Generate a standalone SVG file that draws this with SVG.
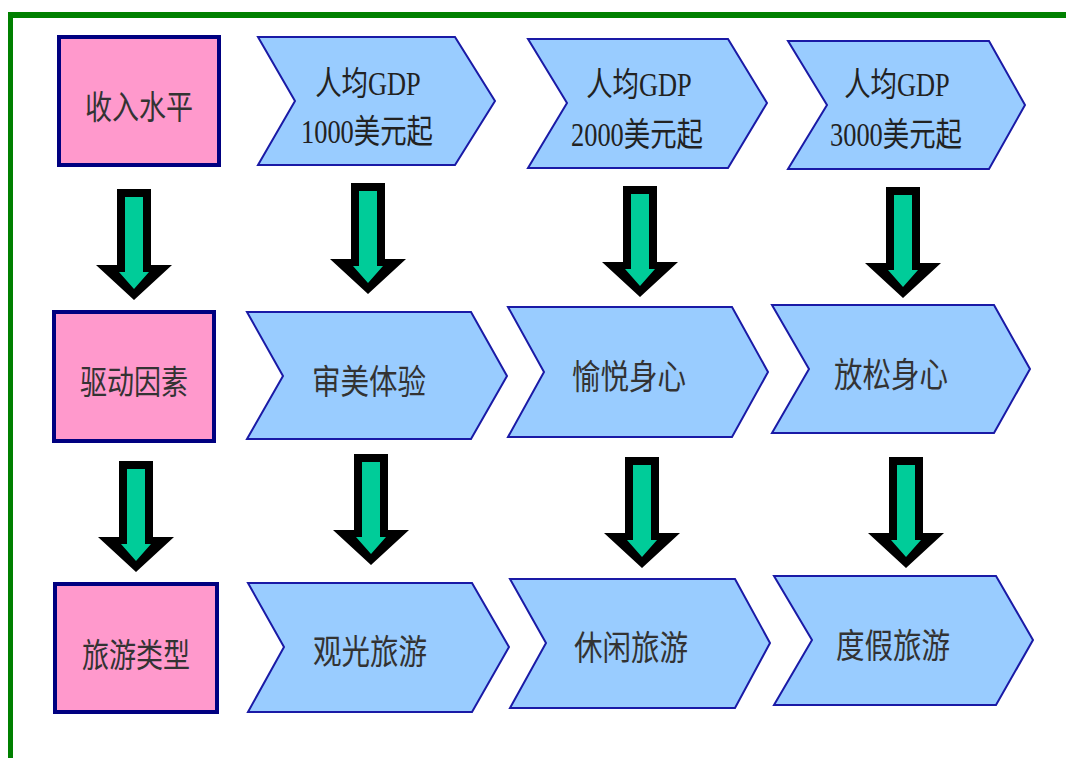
<svg xmlns="http://www.w3.org/2000/svg" xmlns:xlink="http://www.w3.org/1999/xlink" width="1066" height="758" viewBox="0 0 1066 758">
<style>
.bg{fill:#ffffff}
.frame{stroke:#008000;fill:none}
.box{fill:#FF99CC;stroke:#000080;stroke-width:4}
.chev{fill:#99CCFF;stroke:#1a1aa6;stroke-width:2;stroke-linejoin:miter}
.t{font-family:"Liberation Serif","Noto Sans CJK SC",serif;font-size:34px;fill:#333333;text-anchor:middle}
.tb{font-family:"Liberation Serif","Noto Sans CJK SC",serif;font-size:33px;fill:#333333;text-anchor:middle}
.t2{font-family:"Liberation Serif","Noto Sans CJK SC",serif;font-size:33px;fill:#222222;text-anchor:middle}
</style>
<defs>
<g id="arr">
<polygon points="-17,0 17,0 17,76 38,76 0,111 -38,76 -17,76" fill="#000000"/>
<polygon points="-9,8 9,8 9,83 15,83 0,100 -15,83 -9,83" fill="#00CC99"/>
</g>
</defs>
<rect class="bg" x="0" y="0" width="1066" height="758"/>
<g id="frame">
<line class="frame" x1="8" y1="15" x2="1066" y2="15" stroke-width="6"/>
<line class="frame" x1="10.5" y1="12" x2="10.5" y2="758" stroke-width="5"/>
</g>
<g id="connectors">
<use xlink:href="#arr" x="134" y="189"/>
<use xlink:href="#arr" x="368" y="183"/>
<use xlink:href="#arr" x="640" y="186"/>
<use xlink:href="#arr" x="903" y="187"/>
<use xlink:href="#arr" x="136" y="461"/>
<use xlink:href="#arr" x="371" y="454"/>
<use xlink:href="#arr" x="642" y="457"/>
<use xlink:href="#arr" x="906" y="457"/>
</g>
<g id="node-income">
<rect class="box" x="59" y="37" width="160" height="128"/>
<text class="tb" transform="translate(139,119) scale(0.82,1)">收入水平</text>
</g>
<g id="node-gdp1000">
<polygon class="chev" points="258,37 455,37 495,101 455,165 258,165 295,101"/>
<text class="t2" transform="translate(368,95) scale(0.8,1)">人均GDP</text>
<text class="t2" transform="translate(367,143) scale(0.8,1)">1000美元起</text>
</g>
<g id="node-gdp2000">
<polygon class="chev" points="528,39 728,39 767,103 728,168 528,168 567,103"/>
<text class="t2" transform="translate(639,96) scale(0.8,1)">人均GDP</text>
<text class="t2" transform="translate(637,146) scale(0.8,1)">2000美元起</text>
</g>
<g id="node-gdp3000">
<polygon class="chev" points="788,41 989,41 1025,105 989,169 788,169 827,105"/>
<text class="t2" transform="translate(897,96) scale(0.8,1)">人均GDP</text>
<text class="t2" transform="translate(896,146) scale(0.8,1)">3000美元起</text>
</g>
<g id="node-driver">
<rect class="box" x="54" y="312" width="160" height="129"/>
<text class="tb" transform="translate(134,394) scale(0.82,1)">驱动因素</text>
</g>
<g id="node-aesthetic">
<polygon class="chev" points="247,312 471,312 507,376 471,439 247,439 283,376"/>
<text class="t" transform="translate(369,394) scale(0.84,1)">审美体验</text>
</g>
<g id="node-pleasure">
<polygon class="chev" points="508,307 732,307 768,372 732,437 508,437 544,372"/>
<text class="t" transform="translate(629,389) scale(0.84,1)">愉悦身心</text>
</g>
<g id="node-relax">
<polygon class="chev" points="772,305 994,305 1030,369 994,433 772,433 809,369"/>
<text class="t" transform="translate(891,387) scale(0.84,1)">放松身心</text>
</g>
<g id="node-type">
<rect class="box" x="55" y="584" width="162" height="128"/>
<text class="tb" transform="translate(136,667) scale(0.82,1)">旅游类型</text>
</g>
<g id="node-sightseeing">
<polygon class="chev" points="248,583 472,583 509,647 472,712 248,712 284,647"/>
<text class="t" transform="translate(370,664) scale(0.84,1)">观光旅游</text>
</g>
<g id="node-leisure">
<polygon class="chev" points="510,579 735,579 770,643 735,708 510,708 546,643"/>
<text class="t" transform="translate(631,660) scale(0.84,1)">休闲旅游</text>
</g>
<g id="node-vacation">
<polygon class="chev" points="774,576 996,576 1033,640 996,705 774,705 812,640"/>
<text class="t" transform="translate(893,658) scale(0.84,1)">度假旅游</text>
</g>
</svg>
